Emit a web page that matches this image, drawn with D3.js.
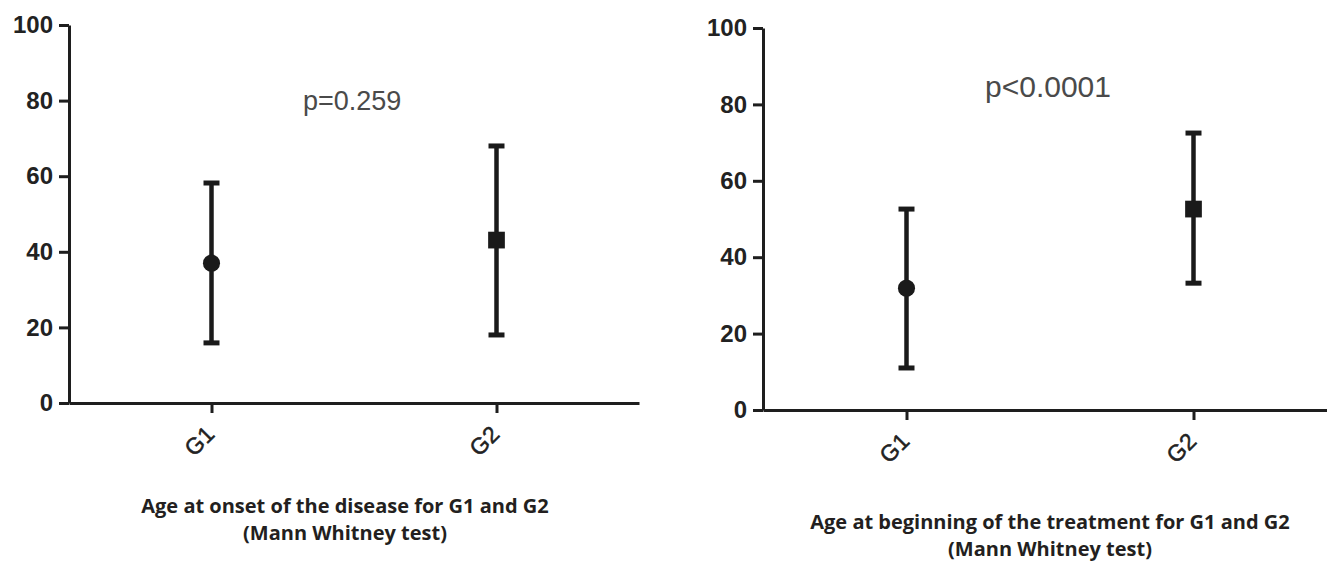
<!DOCTYPE html>
<html>
<head>
<meta charset="utf-8">
<script src="https://cdn.jsdelivr.net/npm/d3@7"></script>
<style>
	body { margin: 0; background: #fff; }
	.axis path, .axis line { stroke: #1e1e1e; stroke-width: 3; }
	.y-axis text { font-family: "Liberation Sans", Arial, sans-serif; font-weight: bold; font-size: 24px; fill: #222; }
	.x-axis text { font-family: "Liberation Sans", Arial, sans-serif; font-size: 23px; fill: #222; stroke: #222; stroke-width: 0.5; }
	.pval { font-family: "Liberation Sans", Arial, sans-serif; fill: #4a4a4a; }
	.caption { font-family: "Open Sans", sans-serif; font-weight: bold; font-size: 20px; fill: #231f20; }
</style>
</head>
<body>
<div id="chart"></div>
<script>

// groups and tick labels
var groups = ["G1", "G2"];
var yTicks = [0, 20, 40, 60, 80, 100];

// Age at onset of the disease (mean, lower and upper whisker)
var onsetMean = [37, 43.1];
var onsetLow = [15.9, 18.0];
var onsetHigh = [58.2, 68.0];

// Age at beginning of the treatment
var treatMean = [31.9, 52.6];
var treatLow = [11.0, 33.2];
var treatHigh = [52.6, 72.5];

var pTexts = ["p=0.259", "p<0.0001"];
var captionsOnset = ["Age at onset of the disease for G1 and G2", "(Mann Whitney test)"];
var captionsTreat = ["Age at beginning of the treatment for G1 and G2", "(Mann Whitney test)"];

var svg = d3.select("#chart").append("svg")
	.attr("width", 1327)
	.attr("height", 561);

/*
 * draw one panel: axes, error bars, markers, p value and caption
 */
function drawPanel(cfg) {
	var g = svg.append("g");

	var x = d3.scalePoint()
		.domain(groups)
		.range([cfg.left, cfg.right])
		.padding(0.5);

	var y = d3.scaleLinear()
		.domain([0, 100])
		.range([cfg.bottom, cfg.top]);

	var yAxis = d3.axisLeft(y).tickValues(yTicks).tickSize(10).tickSizeOuter(0).tickPadding(6);
	var xAxis = d3.axisBottom(x).tickSize(10).tickSizeOuter(0);

	g.append("g")
		.attr("class", "y-axis axis")
		.attr("transform", "translate(" + cfg.left + ",0)")
		.call(yAxis);

	var xg = g.append("g")
		.attr("class", "x-axis axis")
		.attr("transform", "translate(0," + cfg.bottom + ")")
		.call(xAxis);

	xg.selectAll("text")
		.attr("x", 0)
		.attr("y", 0)
		.attr("dy", "0.35em")
		.attr("transform", "translate(-2,27) rotate(-45)")
		.style("text-anchor", "end");

	var rows = groups.map(function(d, i) {
		return { key: d, mean: cfg.mean[i], low: cfg.low[i], high: cfg.high[i] };
	});

	// whiskers
	g.selectAll(".whisker")
		.data(rows)
		.enter()
		.append("line")
		.attr("class", "whisker")
		.attr("x1", d => x(d.key))
		.attr("x2", d => x(d.key))
		.attr("y1", d => y(d.low))
		.attr("y2", d => y(d.high))
		.attr("stroke", "#1a1a1a")
		.attr("stroke-width", 4.5);

	// caps
	["low", "high"].forEach(function(k) {
		g.selectAll(".cap-" + k)
			.data(rows)
			.enter()
			.append("line")
			.attr("class", "cap-" + k)
			.attr("x1", d => x(d.key) - 8)
			.attr("x2", d => x(d.key) + 8)
			.attr("y1", d => y(d[k]))
			.attr("y2", d => y(d[k]))
			.attr("stroke", "#1a1a1a")
			.attr("stroke-width", 5);
	});

	// markers: circle for G1, square for G2
	g.selectAll(".marker")
		.data(rows)
		.enter()
		.append("path")
		.attr("class", "marker")
		.attr("transform", d => "translate(" + x(d.key) + "," + y(d.mean) + ")")
		.attr("d", function(d, i) {
			return d3.symbol().type(i === 0 ? d3.symbolCircle : d3.symbolSquare).size(i === 0 ? 230 : 280)();
		})
		.attr("fill", "#1a1a1a");

	g.append("text")
		.attr("class", "pval")
		.attr("x", cfg.pX)
		.attr("y", cfg.pY)
		.style("font-size", cfg.pSize + "px")
		.text(cfg.pText);

	g.selectAll(".caption")
		.data(cfg.caption)
		.enter()
		.append("text")
		.attr("class", "caption")
		.attr("text-anchor", "middle")
		.attr("x", cfg.capX)
		.attr("y", (d, i) => cfg.capY + i * 27)
		.text(d => d);
}

drawPanel({
	left: 69, right: 639, top: 25, bottom: 403,
	mean: onsetMean, low: onsetLow, high: onsetHigh,
	pText: pTexts[0], pX: 303, pY: 110, pSize: 27,
	caption: captionsOnset, capX: 345, capY: 513
});

drawPanel({
	left: 763, right: 1337, top: 28, bottom: 410,
	mean: treatMean, low: treatLow, high: treatHigh,
	pText: pTexts[1], pX: 985, pY: 97, pSize: 30,
	caption: captionsTreat, capX: 1050, capY: 529
});

</script>
</body>
</html>
